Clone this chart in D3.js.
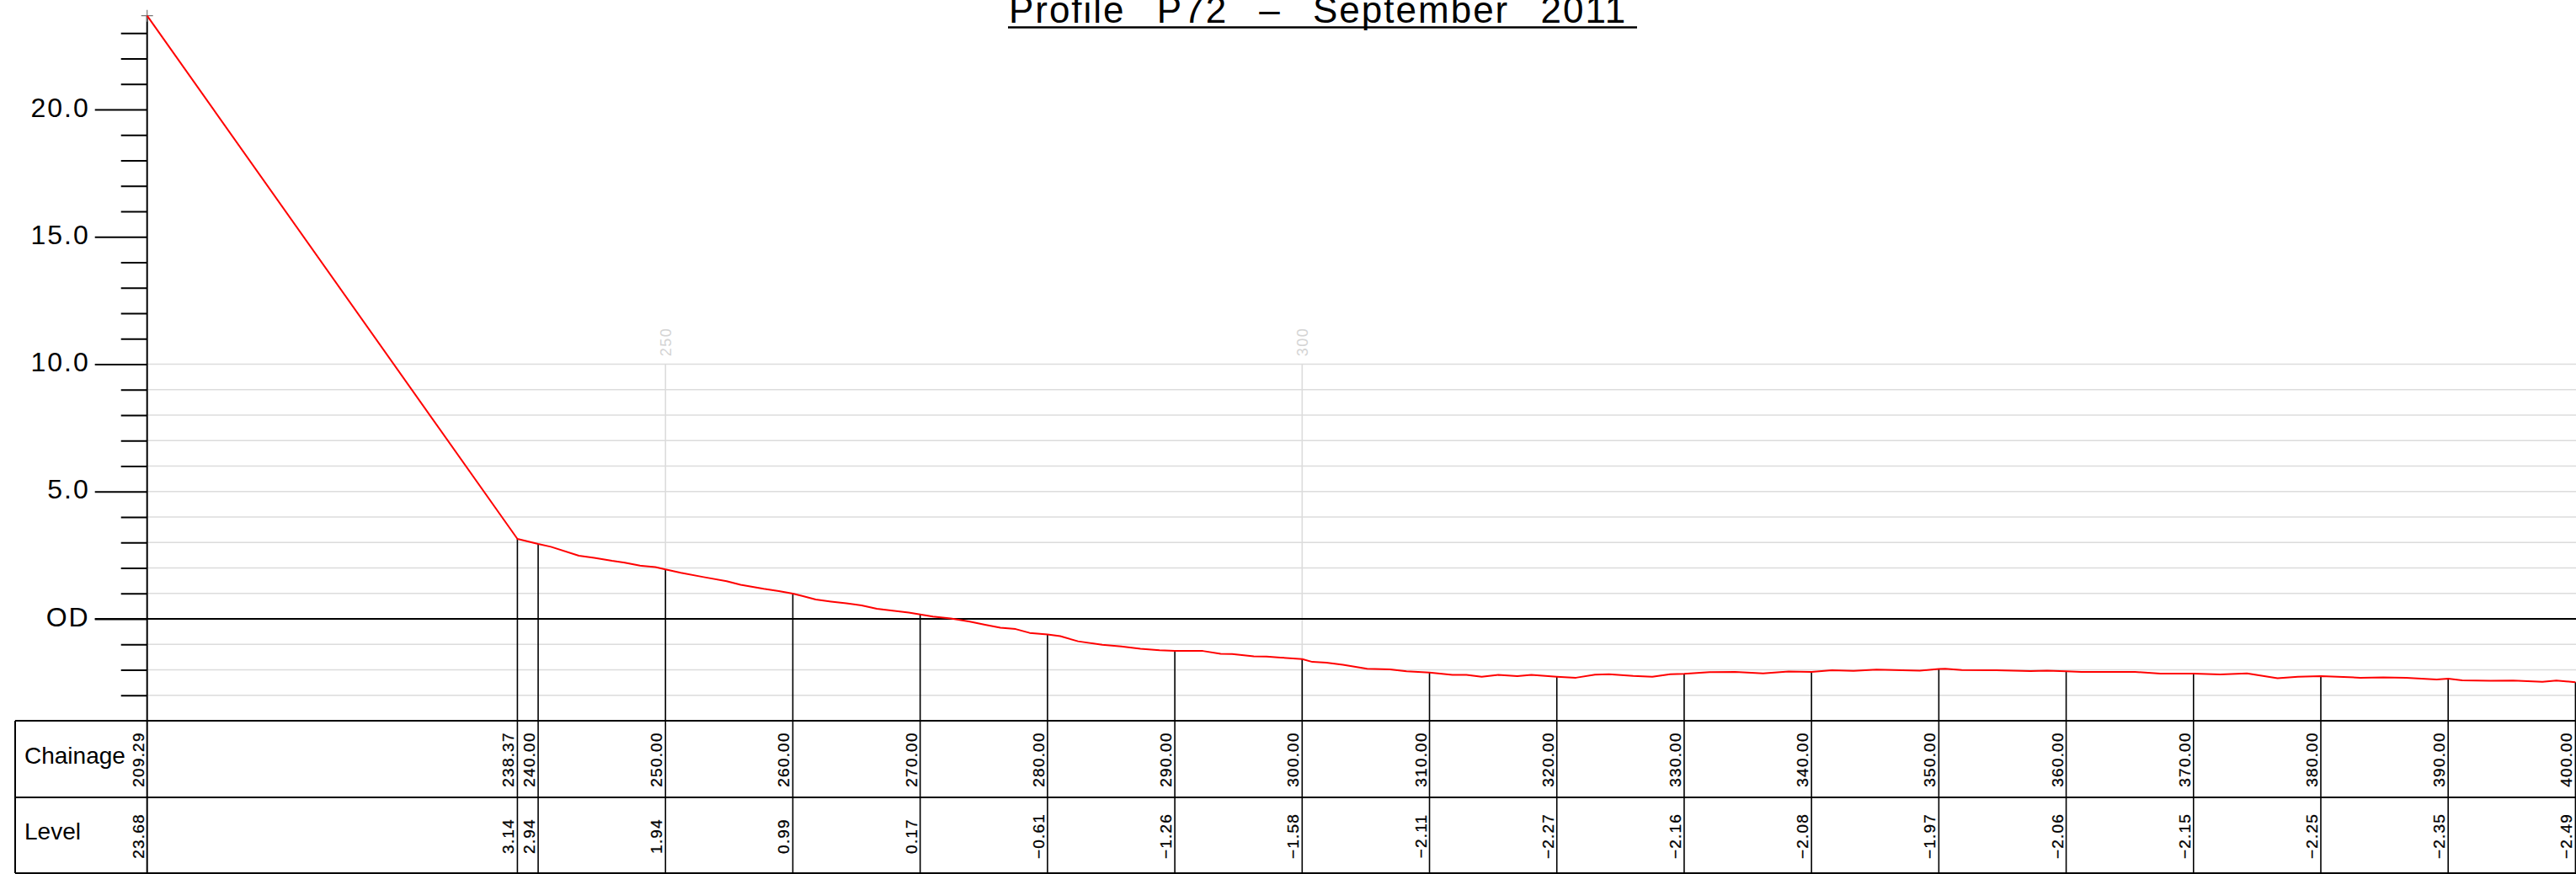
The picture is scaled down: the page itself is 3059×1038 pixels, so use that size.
<!DOCTYPE html>
<html>
<head>
<meta charset="utf-8">
<script src="https://cdn.jsdelivr.net/npm/d3@7"></script>
<style>
  html, body { margin: 0; padding: 0; background: #fff; }
  svg { display: block; }
</style>
</head>
<body>
<script>
// ---------- DATA ----------
const title = "Profile P72 \u2013 September 2011";

// surveyed profile (chainage, level)
const chainage = [209.29, 238.37, 240, 241, 243.2, 244.4, 245.8, 246.8, 248, 249.2, 250, 251.2, 253, 254.8, 255.9, 257.7, 258.9, 260, 260.8, 261.8, 263, 264.2, 265.4, 266.6, 267.7, 269.1, 270, 271, 272.4, 273.9, 275.1, 276.3, 277.5, 278.6, 280, 281, 282.4, 284.3, 285.8, 287.3, 288.8, 290, 292.2, 293.6, 294.5, 296.2, 297.2, 298.3, 300, 300.8, 301.9, 303.2, 305.1, 306.9, 308.2, 310, 311.8, 312.9, 314.1, 315.4, 316.9, 318, 320, 321.5, 323, 324.1, 326, 327.5, 328.9, 330, 332, 334, 336.2, 338.2, 340, 341.6, 343.3, 345.1, 348.5, 350, 350.5, 351.8, 354.5, 357.2, 358.5, 360, 361.2, 365.4, 367.4, 370, 372.1, 374.2, 376.6, 378.2, 380, 383.1, 384.9, 386.7, 389.1, 390, 391.1, 393.3, 395.1, 397.4, 398.5, 400];
const level = [23.68, 3.14, 2.94, 2.83, 2.48, 2.40, 2.28, 2.21, 2.09, 2.03, 1.94, 1.81, 1.64, 1.48, 1.34, 1.18, 1.09, 0.99, 0.89, 0.76, 0.68, 0.61, 0.53, 0.40, 0.33, 0.25, 0.17, 0.09, 0.02, -0.11, -0.23, -0.35, -0.40, -0.55, -0.61, -0.68, -0.88, -1.02, -1.08, -1.17, -1.23, -1.26, -1.26, -1.37, -1.38, -1.47, -1.48, -1.52, -1.58, -1.69, -1.72, -1.80, -1.96, -1.98, -2.06, -2.11, -2.20, -2.20, -2.27, -2.20, -2.25, -2.20, -2.27, -2.31, -2.19, -2.17, -2.24, -2.27, -2.17, -2.16, -2.09, -2.08, -2.14, -2.07, -2.08, -2.02, -2.04, -1.99, -2.03, -1.97, -1.96, -2.01, -2.02, -2.05, -2.03, -2.06, -2.08, -2.08, -2.15, -2.15, -2.18, -2.14, -2.33, -2.27, -2.25, -2.31, -2.30, -2.31, -2.38, -2.35, -2.41, -2.43, -2.42, -2.47, -2.42, -2.49];

// table stations
const stationChainage = [209.29, 238.37, 240, 250, 260, 270, 280, 290, 300, 310, 320, 330, 340, 350, 360, 370, 380, 390, 400];
const stationLevel = [23.68, 3.14, 2.94, 1.94, 0.99, 0.17, -0.61, -1.26, -1.58, -2.11, -2.27, -2.16, -2.08, -1.97, -2.06, -2.15, -2.25, -2.35, -2.49];

// axes
const yMajorTicks = [0, 5, 10, 15, 20];
const yMajorLabels = ["OD", "5.0", "10.0", "15.0", "20.0"];
const yMinorTicks = [-3, -2, -1, 1, 2, 3, 4, 6, 7, 8, 9, 11, 12, 13, 14, 16, 17, 18, 19, 21, 22, 23];
const gridLevels = [-3, -2, -1, 1, 2, 3, 4, 5, 6, 7, 8, 9, 10];
const gridChainage = [250, 300];
const gridChainageLabels = ["250", "300"];
const rowLabels = ["Chainage", "Level"];

// ---------- LAYOUT ----------
const W = 3059, H = 1038;
const tableTop = 856, tableMid = 947, tableBottom = 1037, tableLeft = 18;

const x = d3.scaleLinear().domain([209.29, 400]).range([174.7, 3058.4]);
const y = d3.scaleLinear().domain([-4, 24]).range([tableTop, tableTop - 28 * 30.25]);

const svg = d3.select("body").append("svg").attr("width", W).attr("height", H);

const fmt = v => (v < 0 ? "\u2212" : "") + Math.abs(v).toFixed(2);
const cadFont = "'Liberation Sans', Arial, sans-serif";
const numFont = "'Liberation Sans', Arial, sans-serif";

// horizontal grid
svg.append("g").selectAll("line").data(gridLevels).join("line")
  .attr("x1", x(209.29)).attr("x2", W)
  .attr("y1", d => y(d)).attr("y2", d => y(d))
  .attr("stroke", "#dcdcdc").attr("stroke-width", 1.6);

// vertical grid
svg.append("g").selectAll("line").data(gridChainage).join("line")
  .attr("x1", d => x(d)).attr("x2", d => x(d))
  .attr("y1", y(10)).attr("y2", tableTop)
  .attr("stroke", "#dcdcdc").attr("stroke-width", 1.6);
svg.append("g").selectAll("text").data(gridChainage).join("text")
  .attr("transform", d => `translate(${x(d) + 6.5},${406})rotate(-90)`)
  .attr("text-anchor", "middle")
  .attr("font-family", numFont).attr("font-size", 18).attr("letter-spacing", 1.5)
  .attr("fill", "#d4d4d4")
  .text((d, i) => gridChainageLabels[i]);

// OD line
svg.append("line")
  .attr("x1", x(209.29) - 62).attr("x2", W)
  .attr("y1", y(0)).attr("y2", y(0))
  .attr("stroke", "#000").attr("stroke-width", 2);

// y axis (major + minor ticks)
const axMajor = d3.axisLeft(y).tickValues(yMajorTicks).tickSize(62).tickPadding(6)
  .tickFormat((d, i) => yMajorLabels[i]);
const axMinor = d3.axisLeft(y).tickValues(yMinorTicks).tickSize(31).tickFormat("");

const gMinor = svg.append("g").attr("transform", `translate(${x(209.29)},0)`).call(axMinor);
gMinor.select(".domain").remove();
gMinor.selectAll("line").attr("stroke", "#000").attr("stroke-width", 2);

const gMajor = svg.append("g").attr("transform", `translate(${x(209.29)},0)`).call(axMajor);
gMajor.select(".domain").remove();
gMajor.selectAll("line").attr("stroke", "#000").attr("stroke-width", 2);
gMajor.selectAll("text")
  .attr("font-family", cadFont).attr("font-size", 32)
  .attr("letter-spacing", 2)
  .attr("fill", "#000")
  .attr("dy", null).attr("dominant-baseline", null)
  .attr("y", 8);

// axis line (from top point down through table)
svg.append("line")
  .attr("x1", x(209.29)).attr("x2", x(209.29))
  .attr("y1", y(stationLevel[0])).attr("y2", tableBottom)
  .attr("stroke", "#000").attr("stroke-width", 2);

// small cross at top
const cx = x(209.29), cy = y(stationLevel[0]);
svg.append("path")
  .attr("d", `M${cx - 7},${cy}H${cx + 7}M${cx},${cy - 7}V${cy + 7}`)
  .attr("stroke", "#777").attr("stroke-width", 1.2).attr("fill", "none");

// drop lines at stations
svg.append("g").selectAll("line").data(stationChainage.slice(1)).join("line")
  .attr("x1", d => x(d)).attr("x2", d => x(d))
  .attr("y1", (d, i) => y(stationLevel[i + 1])).attr("y2", tableBottom)
  .attr("stroke", "#000").attr("stroke-width", 1.6);

// profile line
const pts = chainage.map((c, i) => [c, level[i]]);
svg.append("path")
  .datum(pts)
  .attr("d", d3.line().x(d => x(d[0])).y(d => y(d[1])))
  .attr("fill", "none").attr("stroke", "#ff0000").attr("stroke-width", 2)
  .attr("stroke-linejoin", "round");

// table frame
[tableTop, tableMid, tableBottom].forEach(yy => {
  svg.append("line").attr("x1", tableLeft).attr("x2", W).attr("y1", yy).attr("y2", yy)
    .attr("stroke", "#000").attr("stroke-width", 2);
});
svg.append("line").attr("x1", tableLeft).attr("x2", tableLeft).attr("y1", tableTop).attr("y2", tableBottom)
  .attr("stroke", "#000").attr("stroke-width", 2);

// row labels
svg.append("text").attr("x", 29).attr("y", 907)
  .attr("font-family", cadFont).attr("font-size", 28).attr("fill", "#000").text(rowLabels[0]);
svg.append("text").attr("x", 29).attr("y", 997)
  .attr("font-family", cadFont).attr("font-size", 28).attr("fill", "#000").text(rowLabels[1]);

// table values
svg.append("g").selectAll("text").data(stationChainage).join("text")
  .attr("transform", d => `translate(${x(d) - 4},${902})rotate(-90)`)
  .attr("text-anchor", "middle")
  .attr("font-family", numFont).attr("font-size", 19).attr("letter-spacing", 1.2)
  .attr("fill", "#000").attr("stroke", "#000").attr("stroke-width", 0.3)
  .text(d => d.toFixed(2));
svg.append("g").selectAll("text").data(stationLevel).join("text")
  .attr("transform", (d, i) => `translate(${x(stationChainage[i]) - 4},${993})rotate(-90)`)
  .attr("text-anchor", "middle")
  .attr("font-family", numFont).attr("font-size", 19).attr("letter-spacing", 1.2)
  .attr("fill", "#000").attr("stroke", "#000").attr("stroke-width", 0.3)
  .text(d => fmt(d));

// title
svg.append("text")
  .attr("x", 1565).attr("y", 27)
  .attr("text-anchor", "middle")
  .attr("font-family", cadFont).attr("font-size", 44)
  .attr("letter-spacing", 2).attr("word-spacing", 23)
  .attr("fill", "#000")
  .text(title);
svg.append("line").attr("x1", 1197).attr("x2", 1944).attr("y1", 32.5).attr("y2", 32.5)
  .attr("stroke", "#000").attr("stroke-width", 2.5);
</script>
</body>
</html>
